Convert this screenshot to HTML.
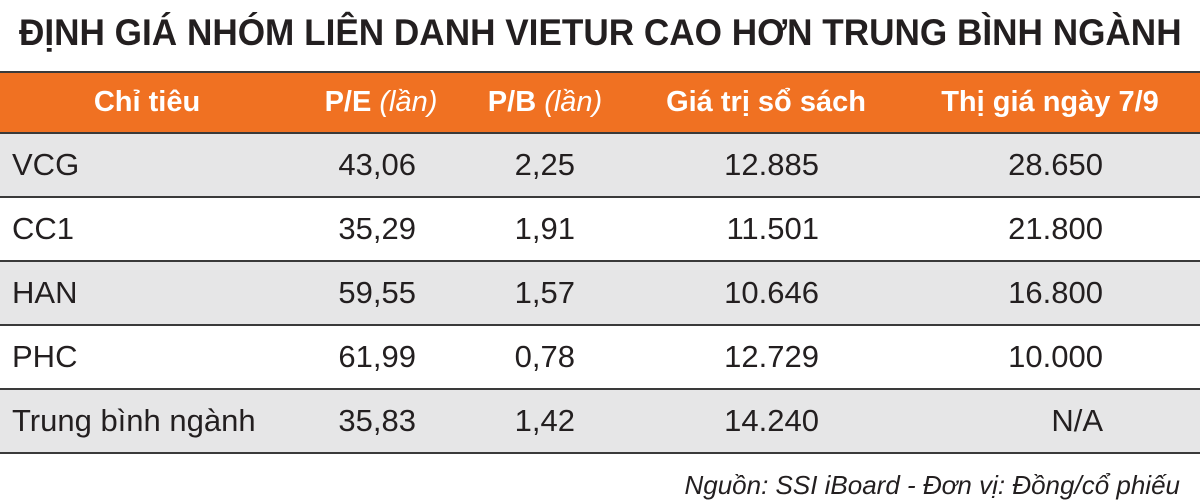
<!DOCTYPE html>
<html><head><meta charset="utf-8"><style>
body{margin:0;width:1200px;height:503px;background:#fff;font-family:"Liberation Sans",sans-serif;position:relative;overflow:hidden;color:#231f20}
.t{position:absolute;left:600px;top:12px;font-weight:bold;font-size:37px;white-space:nowrap;transform:translateX(-50%) scaleX(0.95);transform-origin:0 0}
.hdr{position:absolute;left:0;width:1200px;top:71px;height:63px;background:#f07122;border-top:2px solid #3a3a3a;border-bottom:2px solid #3a3a3a;box-sizing:border-box}
.row{position:absolute;left:0;width:1200px;height:64px;border-bottom:2px solid #3a3a3a;box-sizing:border-box}
.g{background:#e6e6e7}
.c{position:absolute;white-space:nowrap;font-size:31px}
.h{color:#fff;font-weight:bold;font-size:29px;transform:translateX(-50%)}
.h i{font-weight:normal}
.src{position:absolute;right:20px;top:470px;font-style:italic;font-size:26px;white-space:nowrap}
</style></head><body>
<div class="t" id="t">ĐỊNH GIÁ NHÓM LIÊN DANH VIETUR CAO HƠN TRUNG BÌNH NGÀNH</div>
<div class="hdr">
<div class="c h" style="left:147px;top:13px">Chỉ tiêu</div>
<div class="c h" style="left:381px;top:13px">P/E <i>(lần)</i></div>
<div class="c h" style="left:545px;top:13px">P/B <i>(lần)</i></div>
<div class="c h" style="left:766px;top:13px">Giá trị sổ sách</div>
<div class="c h" style="left:1050px;top:13px">Thị giá ngày 7/9</div>
</div>
<div class="row g" style="top:134px"></div>
<div class="row" style="top:198px"></div>
<div class="row g" style="top:262px"></div>
<div class="row" style="top:326px"></div>
<div class="row g" style="top:390px"></div>
<div id="d"></div>
<script>
var t=document.getElementById('t');var w=t.offsetWidth;
t.style.transform='none';t.style.left=(600-w*0.95/2)+'px';t.style.transform='scaleX(0.95)';
var rows=[["VCG","43,06","2,25","12.885","28.650"],["CC1","35,29","1,91","11.501","21.800"],["HAN","59,55","1,57","10.646","16.800"],["PHC","61,99","0,78","12.729","10.000"],["Trung bình ngành","35,83","1,42","14.240","N/A"]];
var rights=[416,575,819,1103],h="";
rows.forEach(function(r,i){var top=134+i*64+13;
h+='<div class="c" style="left:12px;top:'+top+'px">'+r[0]+'</div>';
for(var j=1;j<5;j++)h+='<div class="c" style="right:'+(1200-rights[j-1])+'px;top:'+top+'px">'+r[j]+'</div>';});
document.getElementById('d').innerHTML=h;
</script>
<div class="src">Nguồn: SSI iBoard - Đơn vị: Đồng/cổ phiếu</div>
</body></html>
